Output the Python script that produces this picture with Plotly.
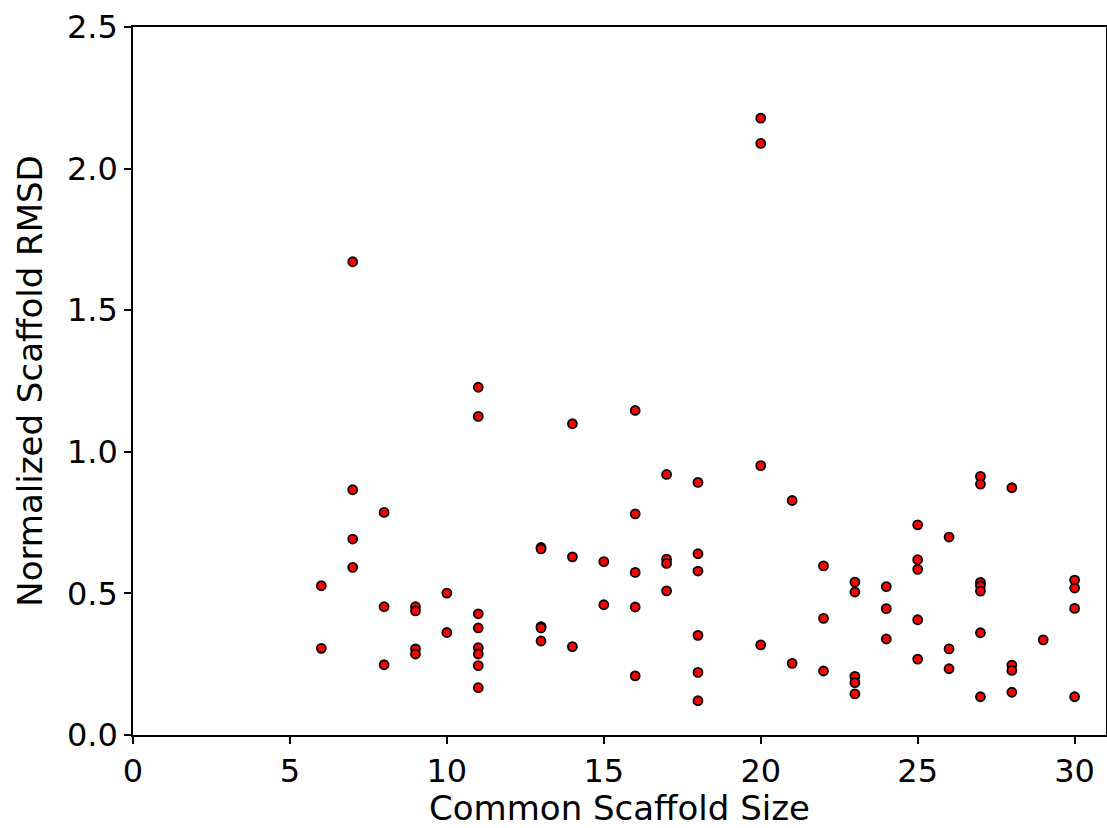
import plotly.graph_objects as go

# Common scaffold size (x) and normalized scaffold RMSD (y)
scaffold_size = [
    6, 6,
    7, 7, 7, 7,
    8, 8, 8,
    9, 9, 9, 9,
    10, 10,
    11, 11, 11, 11, 11, 11, 11, 11,
    13, 13, 13, 13, 13,
    14, 14, 14,
    15, 15,
    16, 16, 16, 16, 16,
    17, 17, 17, 17,
    18, 18, 18, 18, 18, 18,
    20, 20, 20, 20,
    21, 21,
    22, 22, 22,
    23, 23, 23, 23, 23,
    24, 24, 24,
    25, 25, 25, 25, 25,
    26, 26, 26,
    27, 27, 27, 27, 27, 27, 27,
    28, 28, 28, 28,
    29,
    30, 30, 30, 30,
]
rmsd = [
    0.527, 0.306,
    1.671, 0.866, 0.692, 0.592,
    0.786, 0.453, 0.248,
    0.453, 0.438, 0.304, 0.286,
    0.501, 0.362,
    1.228, 1.125, 0.428, 0.378, 0.308, 0.286, 0.245, 0.167,
    0.662, 0.657, 0.383, 0.378, 0.332,
    1.099, 0.629, 0.312,
    0.612, 0.460,
    1.146, 0.781, 0.574, 0.452, 0.209,
    0.920, 0.621, 0.606, 0.509,
    0.892, 0.640, 0.579, 0.352, 0.221, 0.121,
    2.178, 2.089, 0.951, 0.318,
    0.828, 0.253,
    0.597, 0.412, 0.226,
    0.540, 0.505, 0.207, 0.185, 0.145,
    0.524, 0.446, 0.339,
    0.742, 0.619, 0.585, 0.407, 0.268,
    0.699, 0.304, 0.234,
    0.913, 0.886, 0.539, 0.527, 0.508, 0.361, 0.135,
    0.873, 0.247, 0.228, 0.151,
    0.336,
    0.547, 0.519, 0.447, 0.135,
]

x_ticks = [0, 5, 10, 15, 20, 25, 30]
y_ticks = [0.0, 0.5, 1.0, 1.5, 2.0, 2.5]

fig = go.Figure(
    go.Scatter(
        x=scaffold_size,
        y=rmsd,
        mode="markers",
        marker=dict(color="#ff0000", size=9, line=dict(color="black", width=1.8)),
        hoverinfo="x+y",
    )
)

tick_font = dict(family="DejaVu Sans", size=32, color="black")
title_font = dict(family="DejaVu Sans", size=34, color="black")
axis_common = dict(
    showgrid=False,
    zeroline=False,
    showline=True,
    linecolor="black",
    linewidth=1.5,
    mirror=True,
    ticks="outside",
    ticklen=7,
    tickwidth=1.5,
    tickcolor="black",
    tickfont=tick_font,
)

fig.update_layout(
    width=1107,
    height=828,
    margin=dict(l=133, r=1, t=27, b=93),
    paper_bgcolor="white",
    plot_bgcolor="white",
    showlegend=False,
    font=tick_font,
    xaxis=dict(
        range=[0, 31],
        tickvals=x_ticks,
        ticktext=[str(v) for v in x_ticks],
        title=dict(text="Common Scaffold Size", font=title_font, standoff=16),
        automargin=False,
        **axis_common,
    ),
    yaxis=dict(
        range=[0, 2.5],
        tickvals=y_ticks,
        ticktext=[f"{v:.1f}" for v in y_ticks],
        title=dict(text="Normalized Scaffold RMSD", font=title_font, standoff=14),
        automargin=False,
        **axis_common,
    ),
)

fig.write_html("out.html")
